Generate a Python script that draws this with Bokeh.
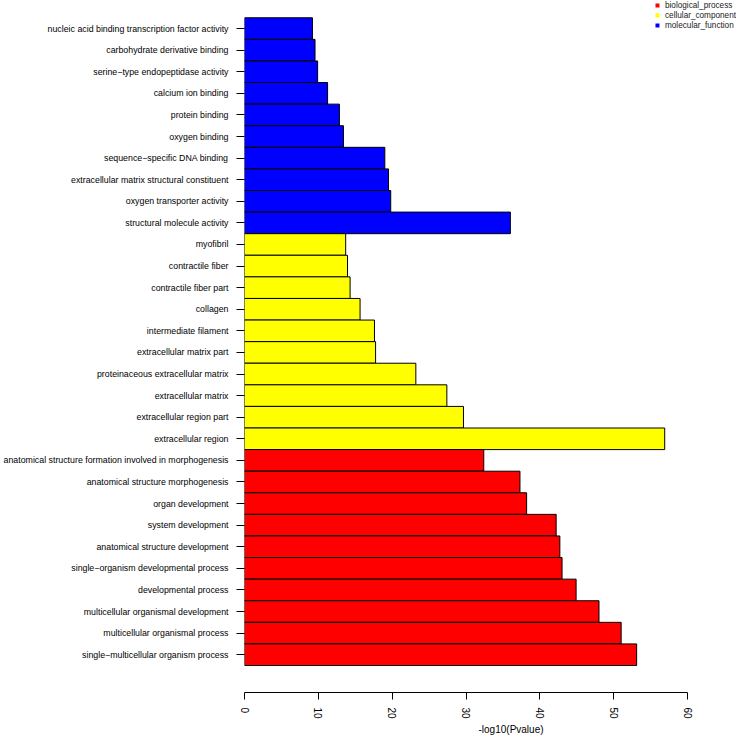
from bokeh.plotting import figure
from bokeh.models import (ColumnDataSource, FixedTicker, Legend, LegendItem, Title,
                          CDSView, GroupFilter)
from bokeh.embed import file_html
from bokeh.resources import INLINE

# ---- data (listed top to bottom as in the chart) ----
mf_terms = ["nucleic acid binding transcription factor activity",
            "carbohydrate derivative binding",
            "serine\u2212type endopeptidase activity",
            "calcium ion binding",
            "protein binding",
            "oxygen binding",
            "sequence\u2212specific DNA binding",
            "extracellular matrix structural constituent",
            "oxygen transporter activity",
            "structural molecule activity"]
mf_values = [9.2, 9.55, 9.9, 11.25, 12.85, 13.4, 19.0, 19.5, 19.8, 36.0]

cc_terms = ["myofibril",
            "contractile fiber",
            "contractile fiber part",
            "collagen",
            "intermediate filament",
            "extracellular matrix part",
            "proteinaceous extracellular matrix",
            "extracellular matrix",
            "extracellular region part",
            "extracellular region"]
cc_values = [13.7, 13.95, 14.3, 15.65, 17.6, 17.75, 23.2, 27.4, 29.65, 56.9]

bp_terms = ["anatomical structure formation involved in morphogenesis",
            "anatomical structure morphogenesis",
            "organ development",
            "system development",
            "anatomical structure development",
            "single\u2212organism developmental process",
            "developmental process",
            "multicellular organismal development",
            "multicellular organismal process",
            "single\u2212multicellular organism process"]
bp_values = [32.4, 37.3, 38.2, 42.2, 42.7, 43.0, 44.9, 48.0, 51.0, 53.1]

groups = ["biological_process", "cellular_component", "molecular_function"]
group_colors = ["#FF0000", "#FFFF00", "#0000FF"]
x_ticks = [0, 10, 20, 30, 40, 50, 60]
x_title = "-log10(Pvalue)"

# ---- assemble, top-to-bottom order then reverse for y positions ----
terms_top_down = mf_terms + cc_terms + bp_terms
values_top_down = mf_values + cc_values + bp_values
groups_top_down = ([groups[2]] * len(mf_terms) + [groups[1]] * len(cc_terms)
                   + [groups[0]] * len(bp_terms))
color_of = dict(zip(groups, group_colors))
colors_top_down = [color_of[g] for g in groups_top_down]
n = len(terms_top_down)
ypos = [n - 1 - i + 0.5 for i in range(n)]

src = ColumnDataSource(dict(y=ypos, v=values_top_down, c=colors_top_down,
                            t=terms_top_down, g=groups_top_down))

FONT = "Liberation Sans"

p = figure(width=745, height=739, output_backend="svg", toolbar_location=None,
           x_range=(0, 66.62), y_range=(-1.25, n + 0.80),
           min_border_top=0, min_border_left=241, min_border_right=9, min_border_bottom=47)
p.outline_line_color = None
p.grid.visible = False
p.background_fill_color = "white"

p.hbar(y="y", right="v", left=0, height=1.0, fill_color="c", line_color="black",
       line_width=1, source=src)

# legend glyphs: zero-size markers bound to each group (only the legend swatch shows)
legend_items = []
for g, col in zip(groups, group_colors):
    view = CDSView(filter=GroupFilter(column_name="g", group=g))
    r = p.scatter(x="v", y="y", source=src, view=view, marker="square", size=0,
                  fill_color=col, line_color=None)
    legend_items.append(LegendItem(label=g, renderers=[r]))
leg = Legend(items=legend_items, location="top_right", border_line_color=None,
             background_fill_alpha=0, padding=0, margin=0, spacing=0,
             label_text_font=FONT, label_text_font_size="8.2px", label_height=10,
             label_text_color="#222222",
             glyph_width=10, glyph_height=10, label_standoff=3)
p.add_layout(leg)

# x axis
xa = p.xaxis[0]
xa.ticker = FixedTicker(ticks=x_ticks)
xa.bounds = (x_ticks[0], x_ticks[-1])
xa.major_label_orientation = "vertical"
xa.major_tick_out = 7
xa.major_tick_in = 0
xa.minor_tick_line_color = None
xa.axis_line_color = "black"
xa.major_label_text_font = FONT
xa.major_label_text_font_size = "10px"
xa.major_label_text_color = "black"
xa.major_label_standoff = 8

# y axis
ya = p.yaxis[0]
ya.ticker = FixedTicker(ticks=ypos)
ya.major_label_overrides = {y: t for y, t in zip(ypos, terms_top_down)}
ya.axis_line_color = None
ya.major_tick_out = 8
ya.major_tick_in = 0
ya.minor_tick_line_color = None
ya.major_label_text_font = FONT
ya.major_label_text_font_size = "8.8px"
ya.major_label_text_color = "black"
ya.major_label_standoff = 8

title = Title(text=x_title, align="left", offset=234, text_font=FONT,
              text_font_size="10px", text_font_style="normal", text_color="black",
              standoff=0)
p.add_layout(title, "below")

open("out.html", "w").write(file_html(p, INLINE))
